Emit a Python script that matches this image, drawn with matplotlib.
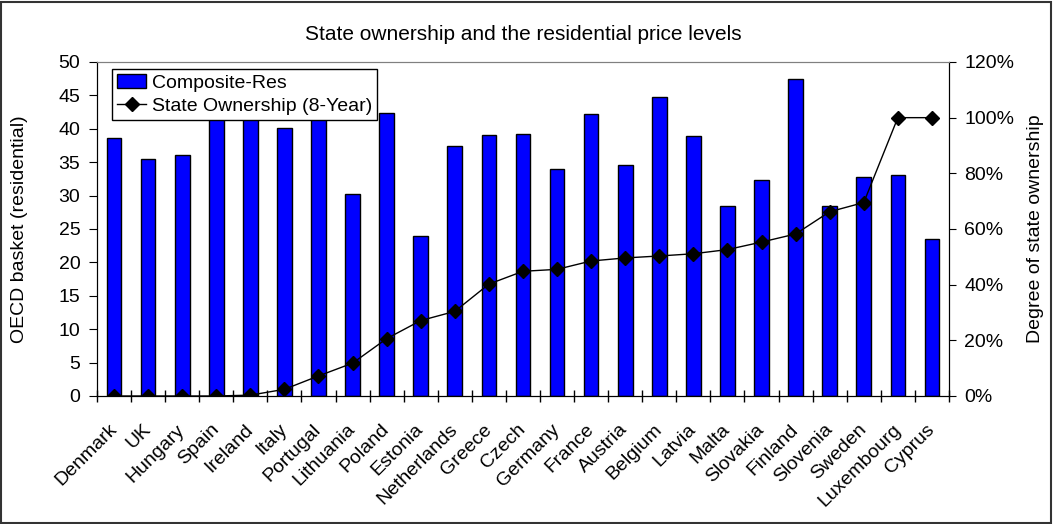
import matplotlib

matplotlib.use("Agg")
import matplotlib.pyplot as plt  # noqa: E402
import matplotlib.transforms as mtransforms  # noqa: E402
from matplotlib.lines import Line2D  # noqa: E402
from matplotlib.patches import Patch, Rectangle  # noqa: E402
from matplotlib.ticker import PercentFormatter  # noqa: E402

plt.rcParams["font.family"] = ["Liberation Sans", "DejaVu Sans"]

countries = ["Denmark", "UK", "Hungary", "Spain", "Ireland", "Italy", "Portugal",
             "Lithuania", "Poland", "Estonia", "Netherlands", "Greece", "Czech",
             "Germany", "France", "Austria", "Belgium", "Latvia", "Malta",
             "Slovakia", "Finland", "Slovenia", "Sweden", "Luxembourg", "Cyprus"]
composite_res = [38.55, 35.45, 36.05, 43.0, 44.0, 40.15, 42.0, 30.25, 42.4,
                 23.95, 37.45, 39.05, 39.2, 34.05, 42.15, 34.65, 44.7, 38.9,
                 28.4, 32.3, 47.5, 28.45, 32.8, 33.1, 23.5]
state_own = [0.0, 0.0, 0.0, 0.0, 0.3, 2.4, 7.2, 11.8, 20.6, 27.1, 30.4, 40.2,
             44.8, 45.5, 48.5, 49.6, 50.3, 51.1, 52.6, 55.3, 58.2, 66.2, 69.5,
             100.0, 100.0]

FS = 14
x = list(range(len(countries)))

fig = plt.figure(figsize=(10.53, 5.24), dpi=100)
ax = fig.add_axes([0.0921, 0.2443, 0.8091, 0.6374])
ax2 = ax.twinx()

ax.bar(x, composite_res, width=0.43, color="#0000ff", edgecolor="black",
       linewidth=1.0, zorder=2)
ax2.plot(x, state_own, color="black", linewidth=1.0, marker="D",
         markersize=7, zorder=3)

ax.set_xlim(-0.5, len(countries) - 0.5)
ax.set_ylim(0, 50)
ax.set_yticks(range(0, 51, 5))
ax2.set_ylim(0, 120)
ax2.set_yticks(range(0, 121, 20))
ax2.yaxis.set_major_formatter(PercentFormatter(decimals=0))

# category ticks sit on the boundaries, labels at the bar centres
ax.set_xticks([i - 0.5 for i in range(len(countries) + 1)])
ax.set_xticklabels([])
ax.set_xticks(x, minor=True)
ax.set_xticklabels(countries, minor=True, rotation=45, ha="right",
                   rotation_mode="anchor", fontsize=FS)
ax.tick_params(axis="x", which="major", direction="inout", length=9, width=1)
ax.tick_params(axis="x", which="minor", length=0, pad=18)
shift = mtransforms.ScaledTranslation(-0.06, 0, fig.dpi_scale_trans)
for lbl in ax.get_xticklabels(minor=True):
    lbl.set_transform(lbl.get_transform() + shift)
ax.tick_params(axis="y", direction="out", length=6, pad=6, labelsize=FS)
ax2.tick_params(axis="y", direction="out", length=5, pad=6, labelsize=FS)

for a in (ax, ax2):
    a.spines["top"].set_color("#808080")
for s in ("left", "bottom"):
    ax.spines[s].set_color("black")
ax2.spines["right"].set_color("black")

ax.set_ylabel("OECD basket (residential)", fontsize=FS)
ax2.set_ylabel("Degree of state ownership", fontsize=FS)
ax.yaxis.set_label_coords(-0.081, 0.5)
ax2.yaxis.set_label_coords(1.092, 0.5)
ax.set_title("State ownership and the residential price levels",
             fontsize=15, pad=16)

handles = [Patch(facecolor="#0000ff", edgecolor="black", linewidth=1.0),
           Line2D([], [], color="black", linewidth=1.0, marker="D",
                  markersize=7)]
leg = ax2.legend(handles, ["Composite-Res", "State Ownership (8-Year)"],
                 loc="upper left", bbox_to_anchor=(0.018, 0.978),
                 fontsize=FS, frameon=True, fancybox=False, framealpha=1,
                 borderpad=0.25, labelspacing=0.3, handlelength=1.5,
                 handletextpad=0.3, borderaxespad=0)
leg.get_frame().set_edgecolor("black")
leg.get_frame().set_linewidth(1.0)
leg.set_zorder(10)

fig.patches.append(Rectangle((0.001, 0.002), 0.997, 0.995,
                             transform=fig.transFigure, fill=False,
                             edgecolor="#333333", linewidth=1.5))

fig.savefig("out.png", dpi=100)
